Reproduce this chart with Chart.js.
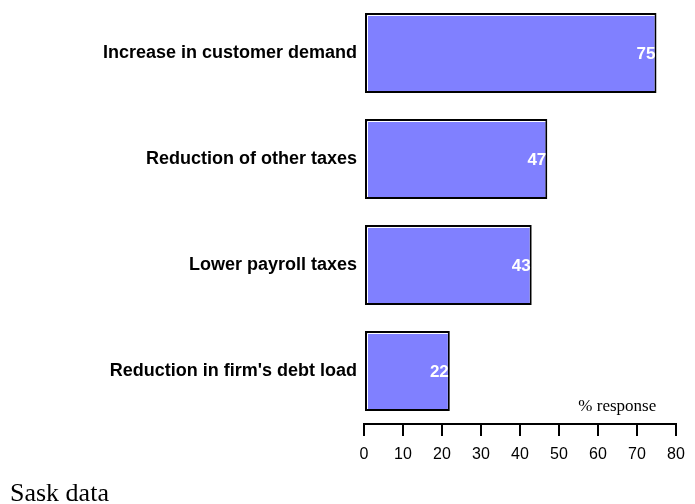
<!DOCTYPE html>
<html>
<head>
<meta charset="utf-8">
<script src="https://cdn.jsdelivr.net/npm/chart.js@4/dist/chart.umd.min.js"></script>
<style>
  html, body { margin: 0; padding: 0; background: #ffffff; }
  #wrap { width: 695px; height: 504px; position: relative; }
</style>
</head>
<body>
<div id="wrap"><canvas id="c" width="695" height="504"></canvas></div>
<script>
// Survey responses: share of firms citing each factor
const categories = [
  "Increase in customer demand",
  "Reduction of other taxes",
  "Lower payroll taxes",
  "Reduction in firm's debt load"
];
const responses = [75, 47, 43, 22];
const xTicks = [0, 10, 20, 30, 40, 50, 60, 70, 80];
const axisTitle = "% response";
const footnote = "Sask data";

// Value labels inside the bar ends, plus a light bevel on the bars
const barExtras = {
  id: 'barExtras',
  afterDatasetsDraw(chart) {
    const ctx = chart.ctx;
    const meta = chart.getDatasetMeta(0);
    ctx.save();
    meta.data.forEach((bar, i) => {
      const left = Math.min(bar.base, bar.x);
      const right = Math.max(bar.base, bar.x);
      const top = bar.y - bar.height / 2;
      const bottom = bar.y + bar.height / 2;
      // bevel highlight along the inner top and left edges
      ctx.strokeStyle = '#ffffff';
      ctx.lineWidth = 1;
      ctx.beginPath();
      ctx.moveTo(left + 2.5, bottom - 2);
      ctx.lineTo(left + 2.5, top + 2.5);
      ctx.lineTo(right - 2, top + 2.5);
      ctx.stroke();
      // value label
      ctx.fillStyle = '#ffffff';
      ctx.font = 'bold 17px "Liberation Sans", Arial, sans-serif';
      ctx.textAlign = 'right';
      ctx.textBaseline = 'middle';
      ctx.fillText(String(responses[i]), right - 1, bar.y + 1);
    });
    ctx.restore();
  },
  afterDraw(chart) {
    const ctx = chart.ctx;
    const xs = chart.scales.x;
    ctx.save();
    ctx.fillStyle = '#000000';
    ctx.font = '17px "Liberation Serif", "Times New Roman", serif';
    ctx.textAlign = 'center';
    ctx.textBaseline = 'alphabetic';
    ctx.fillText(axisTitle, (xs.getPixelForValue(55) + xs.getPixelForValue(80)) / 2 - 10, 411);
    ctx.font = '26px "Liberation Serif", "Times New Roman", serif';
    ctx.textAlign = 'left';
    ctx.fillText(footnote, 10, 501);
    ctx.restore();
  }
};

new Chart(document.getElementById('c'), {
  type: 'bar',
  data: {
    labels: categories,
    datasets: [{
      data: responses,
      backgroundColor: '#8080ff',
      borderColor: '#000000',
      borderWidth: 2,
      borderSkipped: false,
      barPercentage: 0.755,
      categoryPercentage: 1
    }]
  },
  options: {
    indexAxis: 'y',
    responsive: false,
    animation: false,
    layout: { padding: { top: 0, right: 19, bottom: 0, left: 0 } },
    plugins: {
      legend: { display: false },
      tooltip: { enabled: false }
    },
    scales: {
      x: {
        min: 0,
        max: 80,
        afterBuildTicks(scale) {
          scale.ticks = xTicks.map(v => ({ value: v }));
        },
        afterFit(scale) { scale.height = 80; },
        border: { display: true, color: '#000000', width: 2 },
        grid: {
          display: true,
          drawOnChartArea: false,
          drawTicks: true,
          tickLength: 12,
          color: '#000000',
          lineWidth: 2
        },
        ticks: {
          color: '#000000',
          padding: 9,
          maxRotation: 0,
          font: { family: '"Liberation Sans", Arial, sans-serif', size: 16 }
        }
      },
      y: {
        afterFit(scale) {
          scale.width = 364;
          scale.paddingTop = 0;
          scale.paddingBottom = 0;
        },
        border: { display: false },
        grid: { display: false, drawTicks: false },
        ticks: {
          color: '#000000',
          padding: 7,
          font: { family: '"Liberation Sans", Arial, sans-serif', size: 18, weight: 'bold' }
        }
      }
    }
  },
  plugins: [barExtras]
});
</script>
</body>
</html>
